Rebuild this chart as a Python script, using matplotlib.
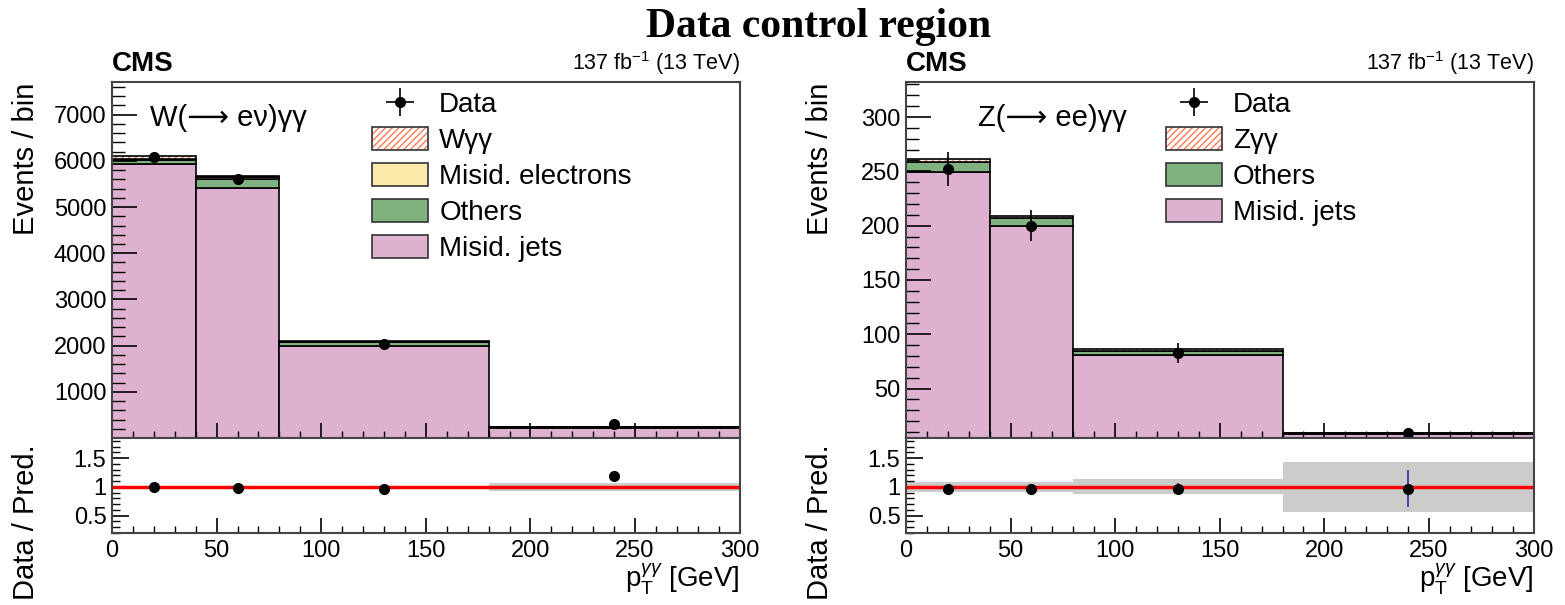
import numpy as np
import matplotlib
matplotlib.use("Agg")
import matplotlib.pyplot as plt
from matplotlib.patches import Patch
from matplotlib.ticker import MultipleLocator

plt.rcParams["font.family"] = ["Liberation Sans", "DejaVu Sans"]
plt.rcParams["mathtext.fontset"] = "custom"
plt.rcParams["mathtext.rm"] = "Liberation Sans"
plt.rcParams["mathtext.it"] = "Liberation Sans:italic"
plt.rcParams["hatch.linewidth"] = 1.0

# pT(gamma gamma) binning [GeV]
edges = np.array([0, 40, 80, 180, 300])

# W(-> e nu) gamma gamma channel
w_jets = [5930, 5410, 2000, 215]
w_others = [90, 190, 70, 20]
w_ele = [15, 60, 10, 5]
w_sig = [80, 15, 10, 5]
w_data = [6080, 5600, 2030, 293]
w_unc = [0.02, 0.02, 0.02, 0.07]   # relative syst. band in ratio

# Z(-> ee) gamma gamma channel
z_jets = [249, 200, 81, 8]
z_others = [10, 7, 4, 1]
z_sig = [2, 2, 1, 0.3]
z_data = [252, 200, 83, 9]
z_unc = [0.08, 0.08, 0.13, 0.44]

PINK = "#dfb1d0"
GREEN = "#7fb27f"
YELLOW = "#fdeaaa"
HATCH = "#ff7a55"
GREY = "#cccccc"

fig = plt.figure(figsize=(15.65, 6.05), dpi=100)


def style_axis(ax, ymaj, ymin_step, ratio=False):
    ax.xaxis.set_major_locator(MultipleLocator(50))
    ax.xaxis.set_minor_locator(MultipleLocator(10))
    ax.yaxis.set_major_locator(MultipleLocator(ymaj))
    ax.yaxis.set_minor_locator(MultipleLocator(ymin_step))
    big, small = (12, 6) if ratio else (18, 9)
    ax.tick_params(which="major", direction="in", length=big, width=1.2,
                   labelsize=17, pad=4)
    ax.tick_params(which="minor", direction="in", length=small, width=1.0)
    ax.tick_params(axis="x", which="major", length=11)
    ax.tick_params(axis="x", which="minor", length=5)
    for s in ax.spines.values():
        s.set_linewidth(1.5)
        s.set_color("#444444")


def draw_channel(x0, region, layers, data, unc, ylim, ymaj, ymin_step, yfmt):
    ax = fig.add_axes([x0, 0.276, 0.401, 0.588])
    axr = fig.add_axes([x0, 0.119, 0.401, 0.157], sharex=ax)
    widths = np.diff(edges)
    centers = edges[:-1] + widths / 2

    bottom = np.zeros(len(widths))
    handles = []
    for name, vals, color in layers:
        vals = np.asarray(vals, float)
        if color == "hatch":
            ax.bar(edges[:-1], vals, widths, bottom=bottom, align="edge",
                   facecolor="white", edgecolor=HATCH, hatch="/////", lw=0)
            ax.bar(edges[:-1], vals, widths, bottom=bottom, align="edge",
                   fill=False, edgecolor="black", lw=1.2)
            h = (Patch(facecolor="white", edgecolor=HATCH, hatch="/////", lw=0),
                 Patch(fill=False, edgecolor="#333333", lw=1.2))
        else:
            ax.bar(edges[:-1], vals, widths, bottom=bottom, align="edge",
                   color=color, edgecolor="black", lw=1.2)
            h = Patch(facecolor=color, edgecolor="#333333", lw=1.2)
        handles.append((h, name))
        bottom = bottom + vals
    pred = bottom

    data = np.asarray(data, float)
    err = np.sqrt(data)
    eb = ax.errorbar(centers, data, yerr=err, xerr=np.zeros_like(data),
                     fmt="o", color="black", ms=7, elinewidth=1.2, capsize=0,
                     zorder=5)

    leg_h = [eb] + [h for h, _ in reversed(handles)]
    leg_l = ["Data"] + [n for _, n in reversed(handles)]
    ax.legend(leg_h, leg_l, loc="upper left", bbox_to_anchor=(0.415, 0.975),
              frameon=False, fontsize=20, handlelength=2.0, handleheight=0.9,
              handletextpad=0.4, labelspacing=0.32, borderpad=0,
              borderaxespad=0)
    ax.text(region[1], 0.9, region[0], transform=ax.transAxes, fontsize=21,
            va="center", ha="left")

    ax.set_xlim(0, 300)
    ax.set_ylim(*ylim)
    style_axis(ax, ymaj, ymin_step)
    ax.tick_params(axis="x", labelbottom=False)
    ax.yaxis.set_major_formatter(yfmt)
    ax.set_ylabel("Events / bin", fontsize=21, loc="top")
    ax.yaxis.set_label_coords(-0.115, 1.0)

    ax.text(0.0, 1.015, "CMS", transform=ax.transAxes, fontsize=20,
            fontweight="bold", ha="left", va="bottom")
    ax.text(1.0, 1.015, r"137 fb$^{-1}$ (13 TeV)", transform=ax.transAxes,
            fontsize=15.5, ha="right", va="bottom")

    # ratio panel
    unc = np.asarray(unc)
    axr.bar(edges[:-1], 2 * unc, widths, bottom=1 - unc, align="edge",
            color=GREY, lw=0)
    axr.axhline(1.0, color="red", lw=2.5)
    axr.errorbar(centers, data / pred, yerr=err / pred, fmt="o", color="black",
                 ecolor="#2a2aa0", ms=7, elinewidth=1.2, capsize=0, zorder=5)
    axr.set_ylim(0.2, 1.85)
    style_axis(axr, 0.5, 0.1, ratio=True)
    axr.set_yticks([0.5, 1.0, 1.5])
    axr.set_yticklabels(["0.5", "1", "1.5"])
    axr.tick_params(axis="x", pad=5)
    axr.set_ylabel("Data / Pred.", fontsize=21, loc="top")
    axr.yaxis.set_label_coords(-0.115, 0.93)
    axr.set_xlabel(r"$\mathrm{p}_\mathrm{T}^{\gamma\gamma}$ [GeV]", fontsize=20,
                   loc="right")
    axr.xaxis.set_label_coords(1.0, -0.3)


int_fmt = matplotlib.ticker.FuncFormatter(lambda v, p: "" if v <= 0 else f"{v:.0f}")

draw_channel(0.0716, ("W(⟶ eν)γγ", 0.06),
             [("Misid. jets", w_jets, PINK), ("Others", w_others, GREEN),
              ("Misid. electrons", w_ele, YELLOW), ("Wγγ", w_sig, "hatch")],
             w_data, w_unc, (0, 7700), 1000, 200, int_fmt)

draw_channel(0.5789, ("Z(⟶ ee)γγ", 0.115),
             [("Misid. jets", z_jets, PINK), ("Others", z_others, GREEN),
              ("Zγγ", z_sig, "hatch")],
             z_data, z_unc, (4.5, 332), 50, 10, int_fmt)

fig.text(0.523, 0.939, "Data control region", family="Liberation Serif",
         fontweight="bold", fontsize=30, ha="center", va="baseline")

fig.savefig("out.png", dpi=100)
